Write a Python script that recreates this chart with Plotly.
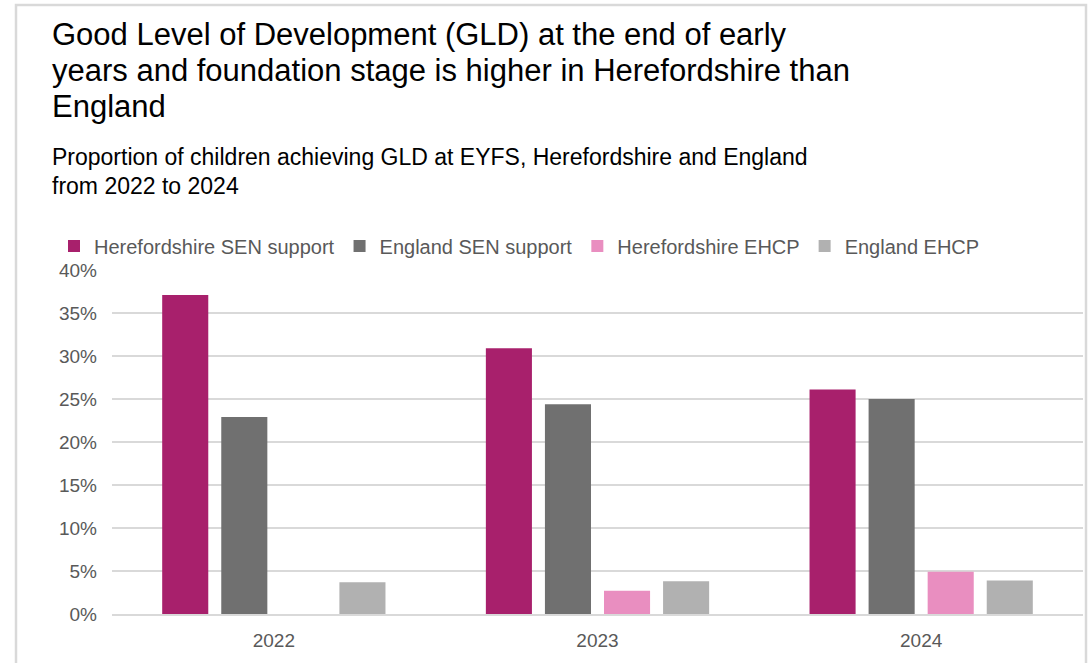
import plotly.graph_objects as go

# Categories and series values (share of children achieving GLD)
years = ["2022", "2023", "2024"]
series_names = [
    "Herefordshire SEN support",
    "England SEN support",
    "Herefordshire EHCP",
    "England EHCP",
]
hereford_sen = [0.371, 0.309, 0.261]
england_sen = [0.229, 0.244, 0.250]
hereford_ehcp = [None, 0.027, 0.049]
england_ehcp = [0.037, 0.038, 0.039]
y_ticks = [0, 0.05, 0.10, 0.15, 0.20, 0.25, 0.30, 0.35, 0.40]

title_lines = [
    "Good Level of Development (GLD) at the end of early",
    "years and foundation stage is higher in Herefordshire than",
    "England",
]
subtitle_lines = [
    "Proportion of children achieving GLD at EYFS, Herefordshire and England",
    "from 2022 to 2024",
]

colors = ["#A8206C", "#707070", "#E98EC0", "#B1B1B1"]
values = [hereford_sen, england_sen, hereford_ehcp, england_ehcp]

W, H = 1091, 663
L, R, T, B = 112, 8, 270, 49
PW, PH = W - L - R, H - T - B


def px_x(x):
    return (x - L) / PW


def px_y(y):
    return 1 + (T - y) / PH


fig = go.Figure()
for name, vals, col in zip(series_names, values, colors):
    fig.add_trace(go.Bar(x=years, y=vals, name=name, marker=dict(color=col, line=dict(width=0))))

font_family = "Liberation Sans, Arial, sans-serif"

annotations = []
for i, line in enumerate(title_lines):
    annotations.append(dict(
        text=line, xref="paper", yref="paper", showarrow=False,
        x=px_x(50), xanchor="left",
        y=px_y(35 + 35.5 * i), yanchor="middle",
        font=dict(family=font_family, size=31, color="#000000"),
    ))
for i, line in enumerate(subtitle_lines):
    annotations.append(dict(
        text=line, xref="paper", yref="paper", showarrow=False,
        x=px_x(50), xanchor="left",
        y=px_y(157 + 29 * i), yanchor="middle",
        font=dict(family=font_family, size=23, color="#000000"),
    ))

fig.update_layout(
    width=W, height=H,
    margin=dict(l=L, r=R, t=T, b=B, pad=0),
    paper_bgcolor="white", plot_bgcolor="white",
    barmode="group", bargap=0.27, bargroupgap=0.22,
    font=dict(family=font_family, color="#595959", size=18),
    showlegend=True,
    legend=dict(
        orientation="h", x=px_x(54), xanchor="left",
        y=px_y(246), yanchor="middle",
        font=dict(size=20, color="#595959"), itemwidth=30,
        traceorder="normal", bgcolor="rgba(0,0,0,0)",
    ),
    annotations=annotations,
    shapes=[dict(
        type="rect", xref="paper", yref="paper",
        x0=px_x(16), x1=px_x(1086),
        y0=px_y(H + 20), y1=px_y(5),
        line=dict(color="#D9D9D9", width=2.5), layer="below",
    )],
)
fig.update_yaxes(
    range=[0, 0.40], tickvals=y_ticks, tickformat=".0%",
    showgrid=True, gridcolor="#D9D9D9", gridwidth=1.5,
    zeroline=False, showline=False, ticks="", ticklabelstandoff=14,
    tickfont=dict(size=19, color="#595959"),
)
fig.update_xaxes(
    showline=True, linecolor="#D9D9D9", linewidth=1.5, ticks="",
    ticklabelstandoff=8, tickfont=dict(size=19, color="#595959"),
)

fig.write_html("out.html")
